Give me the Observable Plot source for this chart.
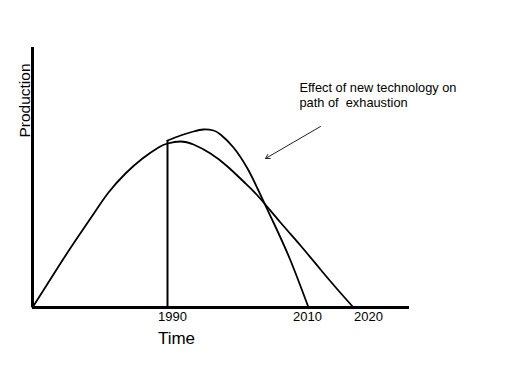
<!DOCTYPE html>
<html>
<head>
<meta charset="utf-8">
<script src="https://cdn.jsdelivr.net/npm/d3@7"></script>
<script src="https://cdn.jsdelivr.net/npm/@observablehq/plot@0.6"></script>
<style>
  html, body { margin: 0; padding: 0; background: #fff; }
  svg { display: block; }
</style>
</head>
<body>
<div id="chart"></div>
<script>
// Original path of production (time index, production index)
const origT = [0, 26, 43, 60, 76, 93, 110, 126, 135, 148, 161, 178, 195, 211, 225, 248, 268, 288, 305, 321];
const origP = [0, 41, 67, 92, 115, 134, 149, 160, 164, 166, 163, 154, 141, 126, 112, 85, 62, 38, 18, 0];
// Path with new technology (starting in 1990)
const newT = [135, 148, 161, 171, 181, 188, 201, 215, 225, 241, 258, 276];
const newP = [167, 172, 176, 178, 177, 173, 160, 139, 119, 85, 47, 0];
// Tick labels
const tickLabels = ["1990", "2010", "2020"];
const tickPos = [140, 275, 336];
const startT = 135;       // 1990 vertical line
const startP = 167;
const annotation = "Effect of new technology on\npath of  exhaustion";

const orig = origT.map((t, i) => ({t, p: origP[i]}));
const neu = newT.map((t, i) => ({t, p: newP[i]}));
const ticks = tickLabels.map((label, i) => ({label, t: tickPos[i]}));

const font = "Liberation Sans, Arial, sans-serif";

const chart = Plot.plot({
  width: 512,
  height: 384,
  marginLeft: 32,
  marginRight: 103,
  marginTop: 47,
  marginBottom: 77,
  x: {domain: [0, 377], axis: null},
  y: {domain: [0, 260], axis: null},
  style: {fontFamily: font, background: "#fff", color: "#000"},
  marks: [
    Plot.line(orig, {x: "t", y: "p", curve: "natural", stroke: "#000", strokeWidth: 1.8}),
    Plot.line(neu, {x: "t", y: "p", curve: "natural", stroke: "#000", strokeWidth: 1.8}),
    Plot.ruleX([startT], {y1: 0, y2: startP, stroke: "#000", strokeWidth: 2}),
    Plot.ruleY([0], {stroke: "#000", strokeWidth: 3}),
    Plot.ruleX([0], {stroke: "#000", strokeWidth: 3}),
    Plot.text(ticks, {x: "t", y: 0, text: "label", dy: 9, fontSize: 13, fill: "#000"}),
    Plot.text(["Time"], {x: 144, y: 0, dy: 31, fontSize: 17, fill: "#000"}),
    Plot.text(["Production"], {x: 0, y: 207, rotate: -90, dx: -7, fontSize: 15.5, fill: "#000"}),
    Plot.text([annotation], {x: 267, y: 226, textAnchor: "start", lineAnchor: "top", fontSize: 12.8, lineHeight: 1.15, fill: "#000"}),
    Plot.arrow([{x1: 288, y1: 181, x2: 233, y2: 149}], {x1: "x1", y1: "y1", x2: "x2", y2: "y2", stroke: "#222", strokeWidth: 1, headLength: 7, bend: false})
  ]
});
document.getElementById("chart").appendChild(chart);
</script>
</body>
</html>
